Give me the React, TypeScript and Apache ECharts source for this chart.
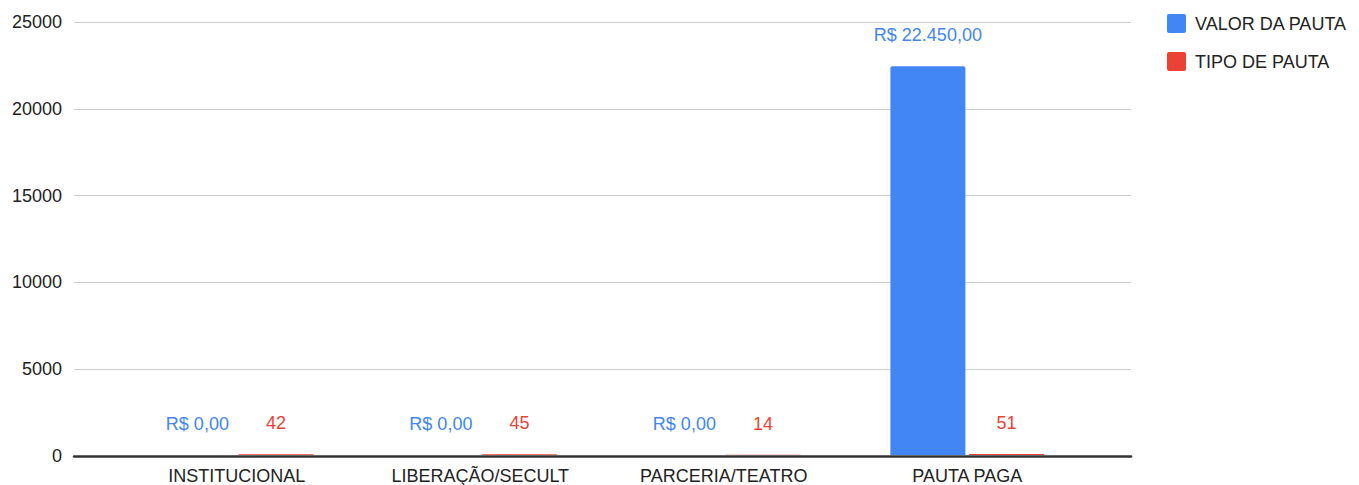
import React, { useEffect, useRef } from "react";
import * as echarts from "echarts";

const categories = ["INSTITUCIONAL", "LIBERAÇÃO/SECULT", "PARCERIA/TEATRO", "PAUTA PAGA"];
const valorDaPauta = [0, 0, 0, 22450];
const tipoDePauta = [42, 45, 14, 51];
const seriesNames = ["VALOR DA PAUTA", "TIPO DE PAUTA"];
const yMin = 0;
const yMax = 25000;
const yInterval = 5000;

const BLUE = "#4285F4";
const RED = "#EA4335";
const FONT = "'Liberation Sans', Arial, sans-serif";

const brl = (v: number) =>
  "R$ " +
  v.toLocaleString("pt-BR", { minimumFractionDigits: 2, maximumFractionDigits: 2 });

const SQUARE = "path://M2,0 L17,0 Q19,0 19,2 L19,17 Q19,19 17,19 L2,19 Q0,19 0,17 L0,2 Q0,0 2,0 Z";

export default function App() {
  const ref = useRef<HTMLDivElement>(null);
  useEffect(() => {
    if (!ref.current) return;
    const chart = echarts.init(ref.current, null, { renderer: "svg" });
    chart.setOption({
      animation: false,
      textStyle: { fontFamily: FONT },
      legend: {
        orient: "vertical",
        left: 1162,
        top: 9,
        itemWidth: 19,
        itemHeight: 19,
        itemGap: 19,
        icon: SQUARE,
        data: seriesNames,
        textStyle: { fontSize: 18, color: "#222", fontFamily: FONT, padding: [0, 0, 0, 4] },
      },
      grid: [
        { left: 74, right: 228, top: 22, bottom: 29, containLabel: false },
        { left: 115, right: 270, top: 22, bottom: 29, containLabel: false },
      ],
      xAxis: [
        {
          type: "value",
          gridIndex: 0,
          min: 0,
          max: 1,
          zlevel: 1,
          z: 10,
          axisLabel: { show: false },
          axisTick: { show: false },
          splitLine: { show: false },
          axisLine: { show: true, onZero: false, lineStyle: { color: "#333", width: 2.5 } },
        },
        {
          type: "category",
          gridIndex: 1,
          data: categories,
          axisLine: { show: false },
          axisTick: { show: false },
          axisLabel: { fontSize: 18, color: "#222", margin: 12, fontFamily: FONT, interval: 0 },
        },
      ],
      yAxis: [
        {
          type: "value",
          gridIndex: 0,
          min: yMin,
          max: yMax,
          interval: yInterval,
          axisLine: { show: false },
          axisTick: { show: false },
          axisLabel: {
            fontSize: 18,
            color: "#222",
            margin: 12,
            fontFamily: FONT,
            formatter: (v: number) => String(v),
          },
          splitLine: { lineStyle: { color: "#cccccc", width: 1 } },
        },
        {
          type: "value",
          gridIndex: 1,
          min: yMin,
          max: yMax,
          interval: yInterval,
          show: false,
          splitLine: { show: false },
        },
      ],
      series: [
        {
          name: seriesNames[0],
          type: "bar",
          xAxisIndex: 1,
          yAxisIndex: 1,
          data: valorDaPauta,
          barWidth: 75,
          barGap: "5%",
          itemStyle: { color: BLUE, borderRadius: [2, 2, 0, 0] },
          label: {
            show: true,
            position: "top",
            distance: 22,
            color: BLUE,
            fontSize: 18,
            fontFamily: FONT,
            formatter: (p: any) => brl(p.value),
          },
        },
        {
          name: seriesNames[1],
          type: "bar",
          xAxisIndex: 1,
          yAxisIndex: 1,
          data: tipoDePauta,
          barWidth: 75,
          barGap: "5%",
          itemStyle: { color: RED },
          label: {
            show: true,
            position: "top",
            distance: 22,
            color: RED,
            fontSize: 18,
            fontFamily: FONT,
          },
        },
      ],
    });
    return () => chart.dispose();
  }, []);
  return <div ref={ref} style={{ width: 1359, height: 485, position: "absolute", left: 0, top: 0 }} />;
}
